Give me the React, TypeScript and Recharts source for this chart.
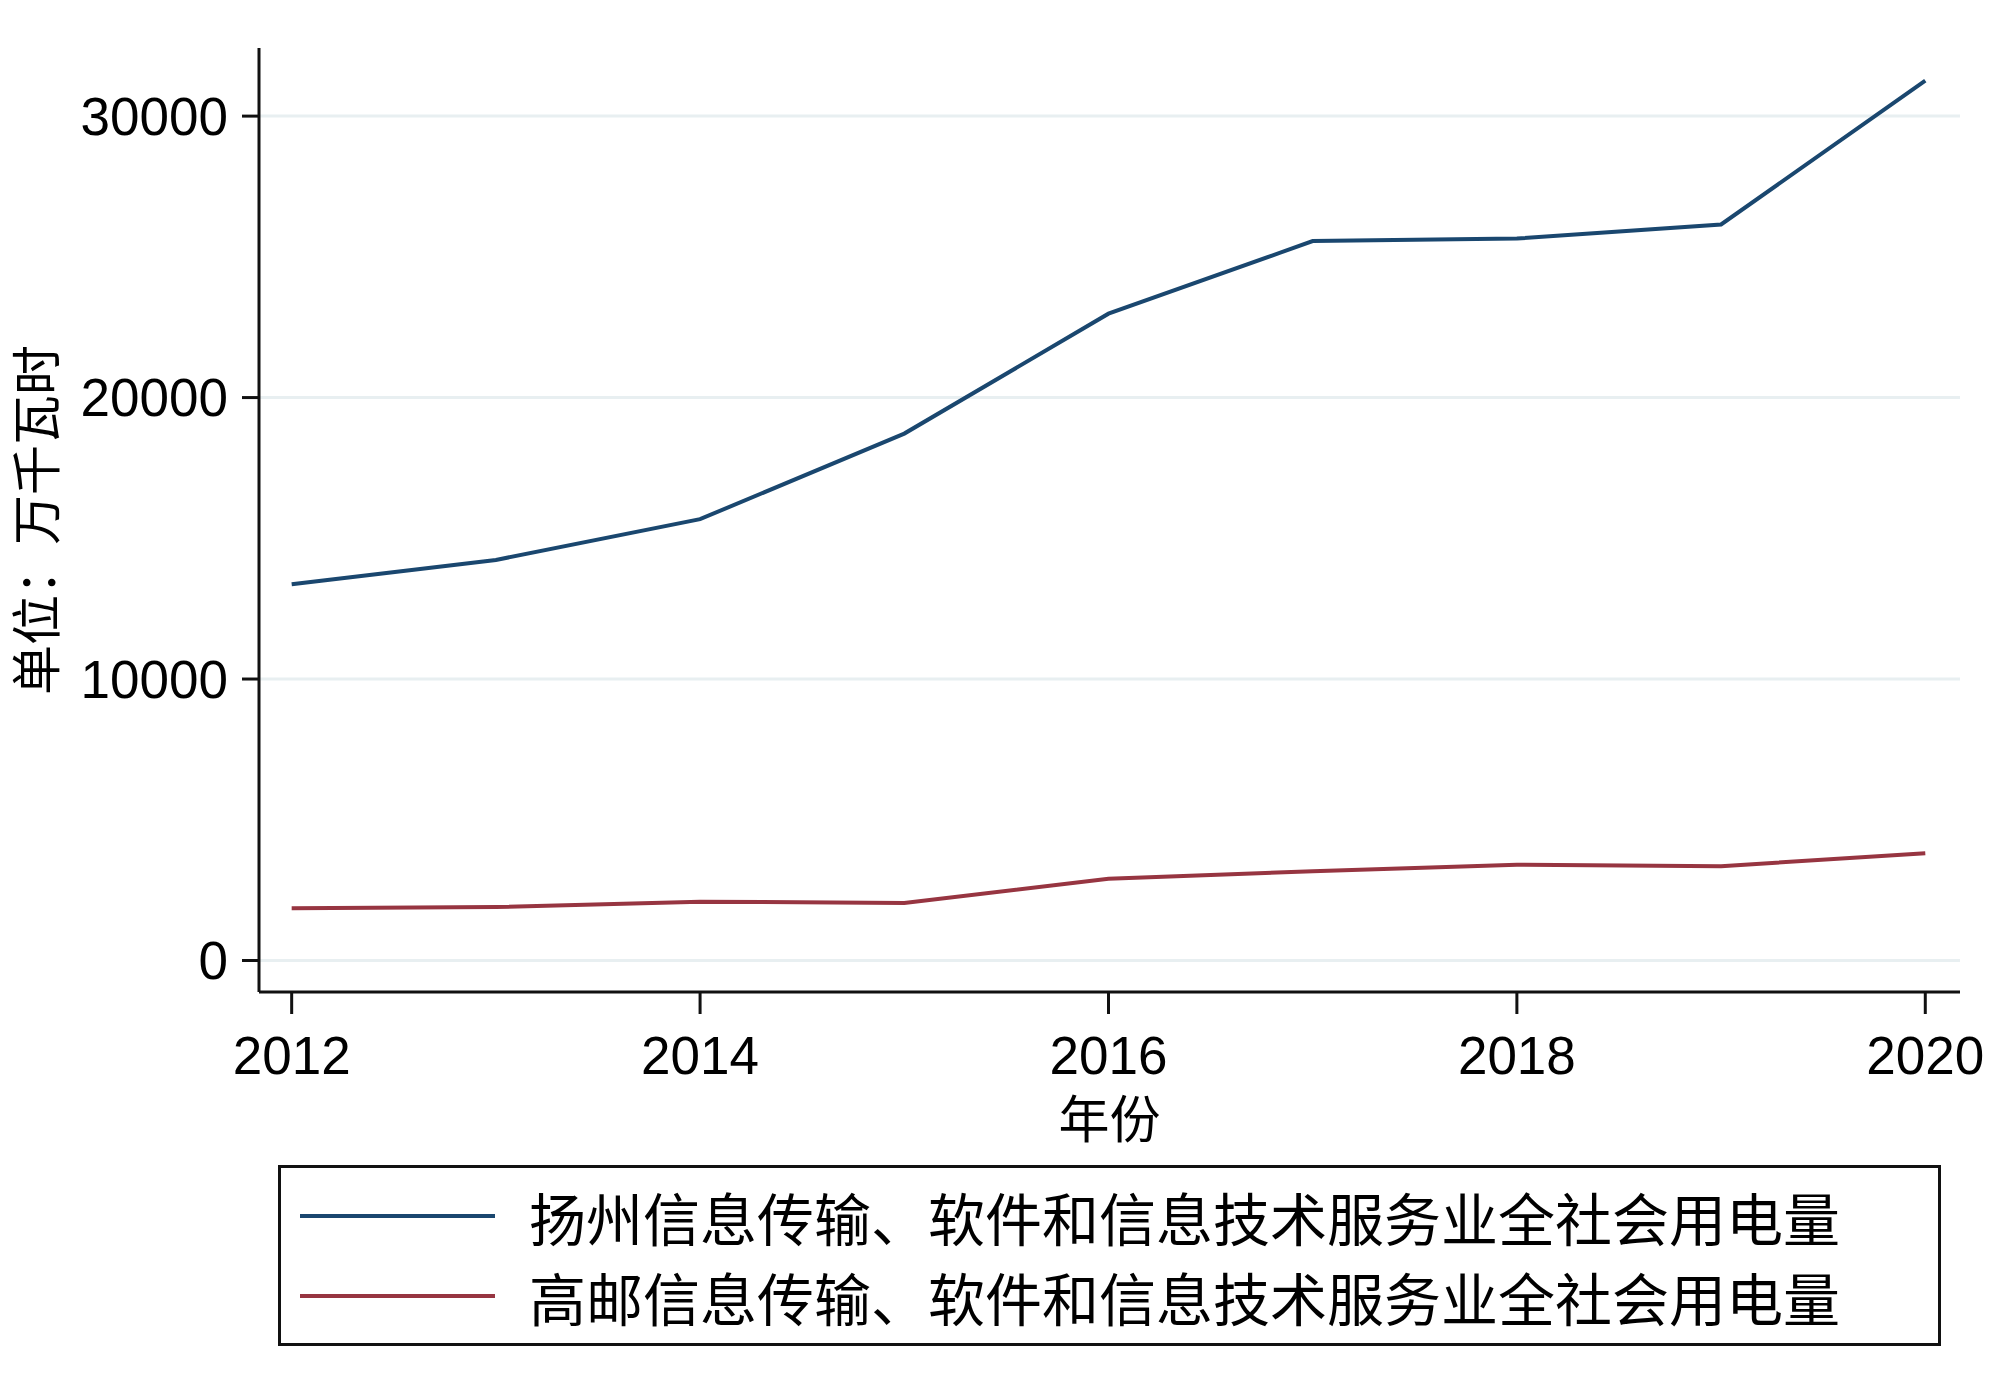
import React from 'react';
import { LineChart, Line, XAxis, YAxis, CartesianGrid, Legend } from 'recharts';

const years = [2012, 2013, 2014, 2015, 2016, 2017, 2018, 2019, 2020];
const yangzhou = [13370, 14230, 15680, 18720, 22980, 25560, 25650, 26150, 31260];
const gaoyou = [1860, 1900, 2090, 2040, 2900, 3170, 3400, 3350, 3810];
const yTicks = [0, 10000, 20000, 30000];
const xTicks = [2012, 2014, 2016, 2018, 2020];
const yDomain = [-1120, 32420];
const xDomain = [2011.84, 2020.17];
const seriesNames = [
  '扬州信息传输、软件和信息技术服务业全社会用电量',
  '高邮信息传输、软件和信息技术服务业全社会用电量',
];
const seriesColors = ['#1a476f', '#973541'];
const yLabel = '单位：万千瓦时';
const xLabel = '年份';

const data = years.map((y, i) => ({ year: y, yz: yangzhou[i], gy: gaoyou[i] }));

const NUM_FONT = '"Liberation Sans", Arial, sans-serif';
const CJK_FONT = '"Noto Sans CJK SC", "Noto Sans", sans-serif';

const gridCoords = (p: any) => {
  const s = p && p.yAxis ? p.yAxis.scale : null;
  if (typeof s === 'function') return yTicks.map((t) => s(t));
  const o = (p && p.offset) || { top: 48, height: 944 };
  return yTicks.map((t) => o.top + (o.height * (yDomain[1] - t)) / (yDomain[1] - yDomain[0]));
};

const YLabelContent = (p: any) => {
  const vb = p.viewBox || {};
  const cy = (vb.y ?? 48) + (vb.height ?? 944) / 2;
  const cx = 33;
  return (
    <text
      x={cx}
      y={cy}
      transform={`rotate(-90 ${cx} ${cy})`}
      textAnchor="middle"
      dominantBaseline="central"
      fontFamily={CJK_FONT}
      fontSize={50}
      fill="#000"
    >
      {yLabel}
    </text>
  );
};

const XLabelContent = (p: any) => {
  const vb = p.viewBox || {};
  const cx = (vb.x ?? 259) + (vb.width ?? 1701) / 2;
  const cy = (vb.y ?? 992) + 124;
  return (
    <text
      x={cx}
      y={cy}
      textAnchor="middle"
      dominantBaseline="central"
      fontFamily={CJK_FONT}
      fontSize={51}
      fill="#000"
    >
      {xLabel}
    </text>
  );
};

const LegendContent = (props: any) => {
  const payload = props.payload || [];
  return (
    <div
      style={{
        boxSizing: 'border-box',
        width: 1663,
        height: 181,
        border: '3px solid #111',
        position: 'relative',
        background: '#fff',
      }}
    >
      {payload.map((entry: any, i: number) => (
        <div
          key={i}
          style={{
            position: 'absolute',
            left: 0,
            top: 48 + i * 80 - 40,
            height: 80,
            display: 'flex',
            alignItems: 'center',
          }}
        >
          <div
            style={{
              marginLeft: 19,
              width: 195,
              height: 4,
              background: entry.color,
            }}
          />
          <span
            style={{
              marginLeft: 34,
              fontFamily: CJK_FONT,
              fontSize: 57,
              lineHeight: '80px',
              color: '#000',
              whiteSpace: 'nowrap',
            }}
          >
            {entry.value}
          </span>
        </div>
      ))}
    </div>
  );
};

export default function App() {
  return (
    <div style={{ position: 'absolute', left: 0, top: 0, width: 2000, height: 1381, background: '#fff' }}>
      <LineChart
        width={2000}
        height={1381}
        data={data}
        margin={{ top: 48, right: 40, left: 0, bottom: 246 }}
      >
        <CartesianGrid
          vertical={false}
          stroke="#e8eff1"
          strokeWidth={3}
          horizontalCoordinatesGenerator={gridCoords}
        />
        <XAxis
          dataKey="year"
          type="number"
          domain={xDomain}
          allowDataOverflow
          ticks={xTicks}
          height={143}
          tickSize={22}
          tickMargin={22}
          stroke="#111"
          strokeWidth={3}
          tick={{ fill: '#000', fontSize: 53, fontFamily: NUM_FONT }}
          label={(p: any) => <XLabelContent {...p} />}
        />
        <YAxis
          type="number"
          domain={yDomain}
          allowDataOverflow
          ticks={yTicks}
          width={259}
          tickSize={17}
          tickMargin={14}
          stroke="#111"
          strokeWidth={3}
          tick={{ fill: '#000', fontSize: 53, fontFamily: NUM_FONT }}
          label={(p: any) => <YLabelContent {...p} />}
        />
        <Line
          type="linear"
          dataKey="yz"
          name={seriesNames[0]}
          stroke={seriesColors[0]}
          strokeWidth={4}
          dot={false}
          isAnimationActive={false}
        />
        <Line
          type="linear"
          dataKey="gy"
          name={seriesNames[1]}
          stroke={seriesColors[1]}
          strokeWidth={4}
          dot={false}
          isAnimationActive={false}
        />
        <Legend
          layout="horizontal"
          verticalAlign="middle"
          align="center"
          content={(p: any) => <LegendContent {...p} />}
          wrapperStyle={{ left: 278, top: 1165, width: 1663, height: 181 }}
        />
      </LineChart>
    </div>
  );
}
